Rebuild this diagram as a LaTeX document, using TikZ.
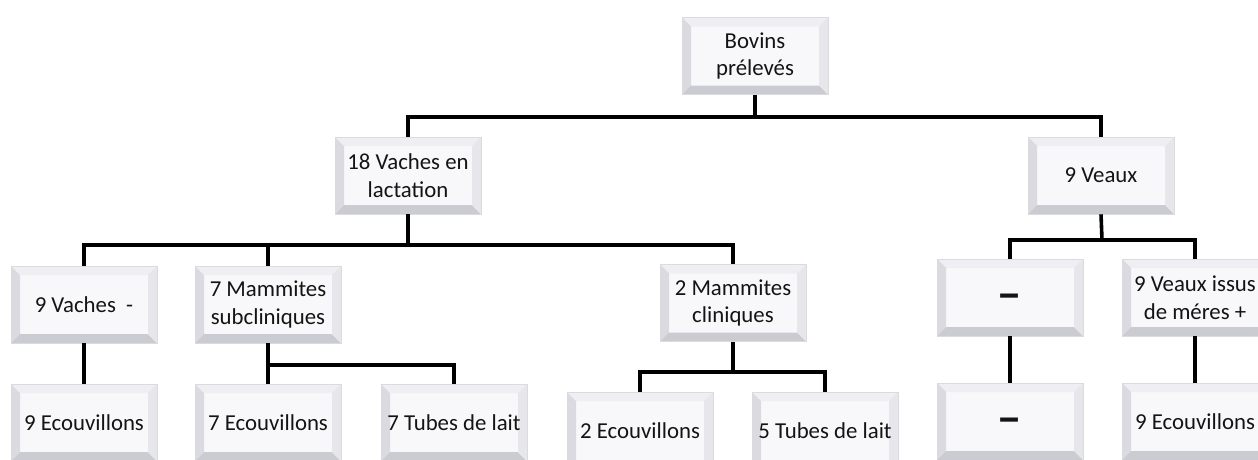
\documentclass[tikz,border=0pt]{standalone}
\usepackage{fontspec}
\setmainfont{Carlito}
\definecolor{face}{HTML}{F8F8FA}
\definecolor{edge}{HTML}{DADADF}
\definecolor{bevT}{HTML}{EFEFF3}
\definecolor{bevL}{HTML}{DADAE0}
\definecolor{bevB}{HTML}{CBCBD2}
\definecolor{bevR}{HTML}{E6E6EB}
\newcommand{\bigdash}{\raisebox{-10pt}[0pt][0pt]{\scalebox{1.8}[1]{-}}}
\tikzset{
  bevbox/.style={rectangle, minimum width=146pt, minimum height=77pt, inner sep=2pt,
    align=center, font=\fontsize{22.8}{27.5}\selectfont, text=black!92, fill=face, draw=edge, line width=0.6pt,
    path picture={
      \path (path picture bounding box.north west) coordinate (pNW)
            (path picture bounding box.north east) coordinate (pNE)
            (path picture bounding box.south west) coordinate (pSW)
            (path picture bounding box.south east) coordinate (pSE);
      \fill[bevT] (pNW) -- (pNE) -- ([shift={(-9pt,-9pt)}]pNE) -- ([shift={(9pt,-9pt)}]pNW) -- cycle;
      \fill[bevL] (pNW) -- (pSW) -- ([shift={(9pt,9pt)}]pSW) -- ([shift={(9pt,-9pt)}]pNW) -- cycle;
      \fill[bevB] (pSW) -- (pSE) -- ([shift={(-9pt,9pt)}]pSE) -- ([shift={(9pt,9pt)}]pSW) -- cycle;
      \fill[bevR] (pNE) -- (pSE) -- ([shift={(-9pt,9pt)}]pSE) -- ([shift={(-9pt,-9pt)}]pNE) -- cycle;
    }},
  dashtxt/.style={font=\fontsize{40}{40}\selectfont\bfseries},
  link/.style={line width=3.6pt, black, line join=miter}
}
\begin{document}
\begin{tikzpicture}[x=1pt,y=-1pt]
\useasboundingbox (0,0) rectangle (1258,459);
\clip (0,0) rectangle (1258,459);
% nodes
\node[bevbox] (bov) at (755,56) {Bovins\\prélevés};
\node[bevbox] (vl) at (408,175.5) {18 Vaches en\\lactation};
\node[bevbox] (veaux) at (1101,175.5) {9 Veaux};
\node[bevbox] (v9) at (84,304.5) {9 Vaches \ -};
\node[bevbox] (m7) at (268,304.5) {7 Mammites\\subcliniques};
\node[bevbox] (m2) at (733,303) {2 Mammites\\cliniques};
\node[bevbox, dashtxt] (d1) at (1010,297.5) {\bigdash};
\node[bevbox] (vi) at (1195,297.5) {9 Veaux issus\\de méres +};
\node[bevbox] (e9) at (84,422.5) {9 Ecouvillons};
\node[bevbox] (e7) at (268,422.5) {7 Ecouvillons};
\node[bevbox] (t7) at (454,422.5) {7 Tubes de lait};
\node[bevbox] (e2) at (640,430.5) {2 Ecouvillons};
\node[bevbox] (t5) at (825,430.5) {5 Tubes de lait};
\node[bevbox, dashtxt] (d2) at (1010,421.5) {\bigdash};
\node[bevbox] (e9b) at (1195,421.5) {9 Ecouvillons};
% junctions
\coordinate (j1) at (755,117);
\coordinate (j2) at (408,245);
\coordinate (j3) at (268,365);
\coordinate (j4) at (733,372);
\coordinate (j5) at (1102,240);
% connectors
\draw[link] (bov.south) -- (j1);
\draw[link] (vl.north) |- (j1) -| (veaux.north);
\draw[link] (vl.south) -- (j2);
\draw[link] (v9.north) |- (j2) -| (m2.north);
\draw[link] (m7.north) -- (m7.north |- j2);
\draw[link] (m7.south) -- (j3);
\draw[link] (e7.north) |- (j3) -| (t7.north);
\draw[link] (m2.south) -- (j4);
\draw[link] (e2.north) |- (j4) -| (t5.north);
\draw[link] (veaux.south) -- (j5);
\draw[link] (d1.north) |- (j5) -| (vi.north);
\draw[link] (v9.south) -- (e9.north);
\draw[link] (d1.south) -- (d2.north);
\draw[link] (vi.south) -- (e9b.north);
\end{tikzpicture}
\end{document}
